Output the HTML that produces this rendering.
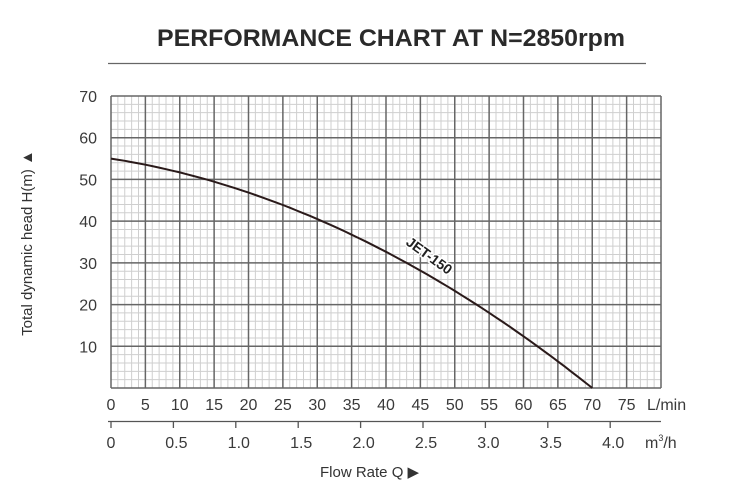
<!DOCTYPE html>
<html><head><style>body{margin:0;background:#fff}svg{display:block}</style></head><body>
<svg width="750" height="503" xmlns="http://www.w3.org/2000/svg" font-family="Liberation Sans, sans-serif">
<text x="391" y="46" text-anchor="middle" font-size="24" font-weight="bold" fill="#2a2a2a" textLength="468" lengthAdjust="spacingAndGlyphs">PERFORMANCE CHART AT N=2850rpm</text>
<line x1="108" y1="63.5" x2="646" y2="63.5" stroke="#666" stroke-width="1.3"/>
<g id="g"></g>
<text transform="translate(32,243) rotate(-90)" font-size="15" fill="#333" text-anchor="middle">Total dynamic head H(m) ▲</text>
<text x="320" y="477" font-size="15" fill="#333">Flow Rate Q ▶</text>
<text id="lab" transform="translate(405,244) rotate(36)" font-size="14" font-weight="bold" fill="#222" stroke="#fff" stroke-width="3" paint-order="stroke">JET-150</text>
</svg>
<script>
const ns="http://www.w3.org/2000/svg",s=document.querySelector('svg'),g=document.getElementById('g');
function el(t,a,p){const e=document.createElementNS(ns,t);for(const k in a)e.setAttribute(k,a[k]);(p||s).appendChild(e);return e;}
const X0=111,X1=661,Y0=96,Y1=388,dx=(X1-X0)/16,dy=(Y1-Y0)/7;
for(let i=0;i<=80;i++){if(i%5)el('line',{x1:X0+i*dx/5,x2:X0+i*dx/5,y1:Y0,y2:Y1,stroke:'#cfcfcf','stroke-width':1},g);}
for(let i=0;i<=35;i++){if(i%5)el('line',{y1:Y0+i*dy/5,y2:Y0+i*dy/5,x1:X0,x2:X1,stroke:'#cfcfcf','stroke-width':1},g);}
for(let i=0;i<=16;i++)el('line',{x1:X0+i*dx,x2:X0+i*dx,y1:Y0,y2:Y1,stroke:'#666','stroke-width':1.5},g);
for(let i=0;i<=7;i++)el('line',{y1:Y0+i*dy,y2:Y0+i*dy,x1:X0,x2:X1,stroke:'#666','stroke-width':1.5},g);
for(let v=10;v<=70;v+=10){const t=el('text',{x:97,y:Y1-v/10*dy+6,'font-size':16,fill:'#3a3a3a','text-anchor':'end'});t.textContent=v;}
for(let v=0;v<=75;v+=5){const t=el('text',{x:X0+v/5*dx,y:410,'font-size':16,fill:'#3a3a3a','text-anchor':'middle'});t.textContent=v;}
let t=el('text',{x:647,y:410,'font-size':16,fill:'#3a3a3a'});t.textContent='L/min';
el('line',{x1:108,x2:661,y1:421.5,y2:421.5,stroke:'#555','stroke-width':1.3});
const m=['0','0.5','1.0','1.5','2.0','2.5','3.0','3.5','4.0'];
m.forEach((v,i)=>{const x=X0+i*62.4;el('line',{x1:x,x2:x,y1:421,y2:428,stroke:'#555','stroke-width':1.3});const t=el('text',{x:x+(i?3:0),y:448,'font-size':16,fill:'#3a3a3a','text-anchor':'middle'});t.textContent=v;});
t=el('text',{x:645,y:448,'font-size':16,fill:'#3a3a3a'});t.innerHTML='m<tspan font-size="9" dy="-7">3</tspan><tspan dy="7">/h</tspan>';
let d='';for(let q=0;q<=70;q+=1){const h=55-0.2566*q-0.00756*q*q;d+=(q?'L':'M')+(X0+q/5*dx).toFixed(1)+' '+(Y1-h/10*dy).toFixed(1);}
el('path',{d:d,fill:'none',stroke:'#2a1a1a','stroke-width':2});
s.appendChild(document.getElementById('lab'));
</script>
</body></html>
